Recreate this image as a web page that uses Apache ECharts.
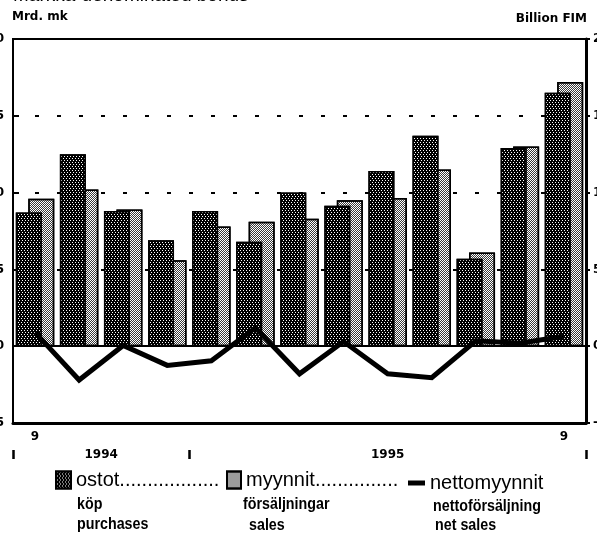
<!DOCTYPE html>
<html>
<head>
<meta charset="utf-8">
<script src="https://cdn.jsdelivr.net/npm/echarts@6/dist/echarts.min.js"></script>
<style>
    html, body { margin: 0; padding: 0; background: #fff; }
    #chart { width: 597px; height: 540px; }
</style>
</head>
<body>
<div id="chart"></div>
<script>
// months from 9/1994 to 9/1995
var months = ['9', '10', '11', '12', '1', '2', '3', '4', '5', '6', '7', '8', '9'];
var purchases = [8.7, 12.5, 8.8, 6.9, 8.8, 6.8, 10.0, 9.15, 11.4, 13.7, 5.7, 12.9, 16.5];
var sales = [9.6, 10.2, 8.9, 5.6, 7.8, 8.1, 8.3, 9.5, 9.65, 11.5, 6.1, 13.0, 17.2];
var netSales = [0.9, -2.2, 0.05, -1.25, -0.95, 1.2, -1.8, 0.3, -1.8, -2.05, 0.35, 0.2, 0.65];
var yearBreaks = [0, 4, 13];
var years = ['1994', '1995'];
var yMin = -5, yMax = 20, yStep = 5;

var sans = '"Liberation Sans", Arial, sans-serif';
var axisFont = '"DejaVu Sans", sans-serif';

// year label positions: middle of each year span
var yearMids = [];
for (var i = 0; i < years.length; i++) {
    yearMids.push((yearBreaks[i] + yearBreaks[i + 1]) / 2);
}

var myChart = echarts.init(document.getElementById('chart'));

var boldAxisLabel = {
    color: '#000',
    fontFamily: axisFont,
    fontWeight: 'bold',
    fontSize: 12
};

// condensed bold sub-lines of the legend (Swedish / English)
function subText(txt, x, y) {
    return {
        type: 'text',
        x: x,
        y: y,
        scaleX: 0.84,
        style: {
            text: txt,
            font: 'bold 17px ' + sans,
            fill: '#000',
            verticalAlign: 'middle'
        }
    };
}

var option = {
    animation: false,
    backgroundColor: '#fff',
    grid: {
        left: 13,
        right: 11,
        top: 39,
        bottom: 117,
        show: true,
        borderColor: '#000',
        borderWidth: 2,
        outerBoundsMode: 'none'
    },
    xAxis: [
        {
            type: 'category',
            data: months,
            position: 'bottom',
            axisLine: { onZero: false, lineStyle: { color: '#000', width: 3 } },
            axisTick: { inside: true, alignWithLabel: true, interval: 0, length: 6, lineStyle: { color: '#000', width: 2 } },
            axisLabel: Object.assign({}, boldAxisLabel, {
                interval: 0,
                margin: 8,
                formatter: function (v, idx) {
                    return (idx === 0 || idx === months.length - 1) ? v : '';
                }
            }),
            splitLine: { show: false }
        },
        {
            type: 'value',
            min: yearBreaks[0],
            max: yearBreaks[yearBreaks.length - 1],
            position: 'bottom',
            offset: 27,
            axisLine: { show: false, onZero: false },
            splitLine: { show: false },
            axisTick: {
                show: true,
                customValues: yearBreaks,
                length: 9,
                lineStyle: { color: '#000', width: 2.5 }
            },
            axisLabel: Object.assign({}, boldAxisLabel, {
                customValues: yearMids,
                margin: -1,
                formatter: function (v) {
                    var k = yearMids.indexOf(v);
                    return k >= 0 ? years[k] : '';
                }
            })
        }
    ],
    yAxis: [
        {
            type: 'value',
            min: yMin,
            max: yMax,
            interval: yStep,
            axisLine: { show: true, lineStyle: { color: '#000', width: 2 } },
            axisTick: { show: true, inside: true, length: 6, lineStyle: { color: '#000', width: 2 } },
            axisLabel: Object.assign({}, boldAxisLabel, { margin: 9 }),
            splitLine: { show: true, lineStyle: { color: '#000', width: 2, type: [4, 18] } }
        },
        {
            type: 'value',
            position: 'right',
            min: yMin,
            max: yMax,
            interval: yStep,
            axisLine: { show: true, lineStyle: { color: '#000', width: 3 } },
            axisTick: { show: true, inside: false, length: 4, lineStyle: { color: '#000', width: 2 } },
            axisLabel: Object.assign({}, boldAxisLabel, { margin: 7 }),
            splitLine: { show: false }
        }
    ],
    legend: [
        {
            data: ['ostot'],
            left: 55, top: 470,
            padding: 0,
            icon: 'rect', itemWidth: 15, itemHeight: 17,
            selectedMode: false,
            formatter: function (n) { return n + '..................'; },
            textStyle: { fontFamily: sans, fontSize: 20, color: '#000' }
        },
        {
            data: ['myynnit'],
            left: 226, top: 470,
            padding: 0,
            icon: 'rect', itemWidth: 14, itemHeight: 17,
            selectedMode: false,
            formatter: function (n) { return n + '...............'; },
            textStyle: { fontFamily: sans, fontSize: 20, color: '#000' }
        },
        {
            data: ['nettomyynnit'],
            left: 408, top: 473,
            padding: 0,
            icon: 'rect', itemWidth: 17, itemHeight: 5,
            selectedMode: false,
            textStyle: { fontFamily: sans, fontSize: 20, color: '#000', padding: [7, 0, 0, 0] }
        }
    ],
    graphic: [
        {
            type: 'text', x: 13, y: -4,
            style: { text: 'Markka-denominated bonds', font: '19px ' + sans, fill: '#000', verticalAlign: 'middle' }
        },
        {
            type: 'text', x: 12, y: 17,
            style: { text: 'Mrd. mk', font: 'bold 12px ' + axisFont, fill: '#000', verticalAlign: 'middle' }
        },
        {
            type: 'text', x: 587, y: 19,
            style: { text: 'Billion FIM', font: 'bold 12px ' + axisFont, fill: '#000', verticalAlign: 'middle', align: 'right' }
        },
        subText('köp', 77, 504),
        subText('purchases', 77, 524),
        subText('försäljningar', 243, 504),
        subText('sales', 249, 525),
        subText('nettoförsäljning', 433, 506),
        subText('net sales', 435, 525)
    ],
    series: [
        {
            name: 'ostot',
            type: 'bar',
            z: 3,
            barWidth: 26,
            barGap: '-52%',
            data: purchases,
            itemStyle: {
                color: '#000',
                borderColor: '#000',
                borderWidth: 1.5,
                decal: {
                    symbol: 'rect',
                    symbolSize: 1,
                    color: '#fff',
                    dashArrayX: [[1, 2], [0, 1, 1, 1]],
                    dashArrayY: [1, 1]
                }
            }
        },
        {
            name: 'myynnit',
            type: 'bar',
            z: 2,
            barWidth: 26,
            data: sales,
            itemStyle: {
                color: '#fff',
                borderColor: '#000',
                borderWidth: 1.5,
                decal: {
                    symbol: 'rect',
                    symbolSize: 1,
                    color: '#3a3a3a',
                    dashArrayX: [[1, 1], [0, 1, 1, 0]],
                    dashArrayY: [1, 0]
                }
            }
        },
        {
            name: 'nettomyynnit',
            type: 'line',
            z: 5,
            data: netSales,
            symbol: 'none',
            itemStyle: { color: '#000' },
            lineStyle: { color: '#000', width: 5, join: 'miter' },
            markLine: {
                silent: true,
                symbol: 'none',
                label: { show: false },
                lineStyle: { color: '#000', width: 2, type: 'solid' },
                data: [{ yAxis: 0 }]
            }
        }
    ]
};
myChart.setOption(option);
</script>
</body>
</html>
